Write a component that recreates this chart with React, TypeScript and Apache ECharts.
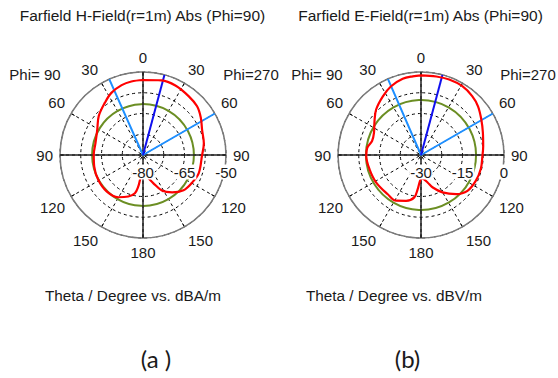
import React, { useEffect, useRef } from "react";
import * as echarts from "echarts";

// ---------- data ----------
// Theta (deg, clockwise from top; right half = Phi=270, left half = 360 - theta of Phi=90)
const THETA_A = [0, 14, 25, 38, 48, 57, 67, 79, 91, 108, 120, 131, 142, 152, 160, 170, 178, 185, 188.5, 192, 199.5, 210.4, 225, 241, 257, 270.4, 284, 299, 311.3, 324, 333, 343, 351, 360];
const H_FIELD = [-52.9, -52.2, -52.3, -53.1, -53.7, -55.1, -56.8, -57.6, -58.7, -58.8, -59.7, -60.6, -62.9, -65.5, -69.2, -72.1, -72.9, -72.3, -68.5, -65.9, -64.1, -62.3, -61.4, -61.5, -61.9, -62.2, -62.3, -61.1, -58.7, -56.6, -54.8, -53.6, -53.1, -52.9];

const THETA_B = [0, 11, 20.5, 31, 41, 49.5, 59.5, 70, 82, 91, 103, 115, 127.6, 138, 150, 160, 166.5, 173.7, 178, 182.2, 185.5, 189, 198, 208.5, 220.3, 238.4, 254.5, 269, 277.7, 286, 295.3, 306.1, 315.4, 327, 336.5, 346.5, 354, 360];
const E_FIELD = [-1.2, -1.1, -0.9, -1.0, -1.8, -2.9, -4.7, -6.2, -7.3, -7.8, -7.8, -8.1, -8.8, -11.0, -14.4, -17.5, -19.8, -21.2, -21.5, -20.6, -17.6, -14.5, -12.6, -11.2, -11.4, -11.0, -10.7, -10.2, -10.4, -11.6, -11.2, -9.2, -6.9, -4.7, -2.9, -1.7, -1.4, -1.2];

// reference level circles (green)
const LEVEL_A = -61.6;
const LEVEL_B = -10.1;

// main lobe direction and beam width limits (deg)
const MAIN_DIR_A = 15;
const BEAM_A = [336, 60];
const MAIN_DIR_B = 15;
const BEAM_B = [336.5, 60];

// axes
const RANGE_A = [-80, -50];
const RANGE_B = [-30, 0];
const GRID_A = [-80, -72.5, -65, -57.5, -50];
const GRID_B = [-30, -22.5, -15, -7.5, 0];
const RLABELS_A = [-80, -65, -50];
const RLABELS_B = [-30, -15, 0];
const ANGLE_LABELS = ["0", "30", "60", "90", "120", "150", "180", "150", "120", "90", "60", "30", ""];
const CROSS = [[0, 180], [90, 270]];

const TITLE_A = "Farfield H-Field(r=1m) Abs (Phi=90)";
const TITLE_B = "Farfield E-Field(r=1m) Abs (Phi=90)";
const CAPTION_A = "Theta / Degree vs. dBA/m";
const CAPTION_B = "Theta / Degree vs. dBV/m";

const FONT = "'Liberation Sans', Arial, sans-serif";
const TXT = "#1a1a1a";

function buildPolar(
  idx: number,
  center: number[],
  range: number[],
  grid: number[],
  rlabels: number[],
  level: number,
  theta: number[],
  vals: number[],
  mainDir: number,
  beam: number[]
) {
  const base = idx * 3;
  const polar = [0, 1, 2].map(() => ({ center, radius: 83 }));
  const angleAxis = [
    {
      polarIndex: base,
      type: "value",
      min: 0,
      max: 360,
      interval: 30,
      startAngle: 90,
      clockwise: true,
      axisLine: { show: true, lineStyle: { color: "#7a7a7a", width: 1.5 } },
      axisTick: { show: true, inside: true, length: 4, lineStyle: { color: "#000", width: 1 } },
      axisLabel: {
        margin: 7,
        fontSize: 15,
        fontFamily: FONT,
        color: TXT,
        formatter: (v: number) => ANGLE_LABELS[Math.round(v / 30)] ?? "",
      },
      splitLine: { show: true, lineStyle: { color: "#000", width: 1, type: [3, 3] } },
    },
    { polarIndex: base + 1, type: "value", min: 0, max: 360, startAngle: 0, show: false },
    { polarIndex: base + 2, type: "value", min: 0, max: 360, startAngle: 90, show: false },
  ];
  const radiusAxis = [
    {
      polarIndex: base,
      type: "value",
      min: range[0],
      max: range[1],
      axisLine: { show: false },
      axisTick: { show: false, customValues: grid },
      axisLabel: { show: false },
      splitLine: { show: true, lineStyle: { color: "#000", width: 1, type: [3, 3] } },
    },
    {
      polarIndex: base + 1,
      type: "value",
      min: range[0],
      max: range[1],
      z: 5,
      axisLine: { show: false },
      axisTick: { show: false },
      splitLine: { show: false },
      axisLabel: {
        show: true,
        customValues: rlabels,
        margin: -17,
        verticalAlign: "middle",
        align: "center",
        fontSize: 15,
        fontFamily: FONT,
        color: TXT,
        backgroundColor: "#ffffff",
        padding: [0, 1],
      },
    },
    {
      polarIndex: base + 2,
      type: "value",
      min: range[0],
      max: range[1],
      z: 1,
      axisLine: { show: false },
      axisTick: { show: false, customValues: [level] },
      axisLabel: { show: false },
      splitLine: { show: true, lineStyle: { color: "#6b8e23", width: 2, type: "solid" } },
    },
  ];
  const series: any[] = [];
  CROSS.forEach((pair) => {
    series.push({
      type: "line",
      coordinateSystem: "polar",
      polarIndex: base,
      symbol: "none",
      silent: true,
      z: 2,
      lineStyle: { color: "#202020", width: 1.5 },
      data: [[range[1], pair[0]], [range[1], pair[1]]],
    });
  });
  series.push({
    type: "line",
    coordinateSystem: "polar",
    polarIndex: base,
    symbol: "none",
    silent: true,
    z: 3,
    lineStyle: { color: "#1e8fff", width: 2 },
    data: [[range[1], beam[0]], [range[0], 0], [range[1], beam[1]]],
  });
  series.push({
    type: "line",
    coordinateSystem: "polar",
    polarIndex: base,
    symbol: "none",
    silent: true,
    z: 3,
    lineStyle: { color: "#1010ee", width: 2 },
    data: [[range[0], 0], [range[1], mainDir]],
  });
  series.push({
    type: "line",
    coordinateSystem: "polar",
    polarIndex: base,
    symbol: "none",
    silent: true,
    smooth: 0.35,
    z: 4,
    lineStyle: { color: "#ff0000", width: 2.2 },
    data: theta.map((t, i) => [vals[i], t]),
  });
  return { polar, angleAxis, radiusAxis, series };
}

export default function App() {
  const ref = useRef<HTMLDivElement>(null);
  useEffect(() => {
    if (!ref.current) return;
    const chart = echarts.init(ref.current, null, { renderer: "svg" });
    const a = buildPolar(0, [143, 155], RANGE_A, GRID_A, RLABELS_A, LEVEL_A, THETA_A, H_FIELD, MAIN_DIR_A, BEAM_A);
    const b = buildPolar(1, [421, 155], RANGE_B, GRID_B, RLABELS_B, LEVEL_B, THETA_B, E_FIELD, MAIN_DIR_B, BEAM_B);
    const txt = (text: string, x: number, y: number, size = 15, family = FONT) => ({
      type: "text",
      x,
      y,
      style: { text, fill: TXT, font: `${size}px ${family}`, textAlign: "center", textVerticalAlign: "middle" },
      silent: true,
    });
    chart.setOption({
      animation: false,
      backgroundColor: "#ffffff",
      title: [
        { text: TITLE_A, left: 142.5, top: 7, textAlign: "center", padding: 0, textStyle: { fontSize: 15.5, fontWeight: "normal", fontFamily: FONT, color: TXT } },
        { text: TITLE_B, left: 420.5, top: 7, textAlign: "center", padding: 0, textStyle: { fontSize: 15.5, fontWeight: "normal", fontFamily: FONT, color: TXT } },
      ],
      polar: [...a.polar, ...b.polar],
      angleAxis: [...a.angleAxis, ...b.angleAxis],
      radiusAxis: [...a.radiusAxis, ...b.radiusAxis],
      series: [...a.series, ...b.series],
      graphic: [
        txt("Phi= 90", 35, 74),
        txt("Phi=270", 251, 74),
        txt("Phi= 90", 317, 74),
        txt("Phi=270", 528, 74),
        txt(CAPTION_A, 133, 295, 15.3),
        txt(CAPTION_B, 394, 295, 15.3),
        txt("(a )", 156, 358, 24, "Lato, sans-serif"),
        txt("(b)", 407.5, 358, 24, "Lato, sans-serif"),
      ],
    });
    return () => chart.dispose();
  }, []);
  return <div ref={ref} style={{ position: "absolute", left: 0, top: 0, width: 558, height: 378 }} />;
}
